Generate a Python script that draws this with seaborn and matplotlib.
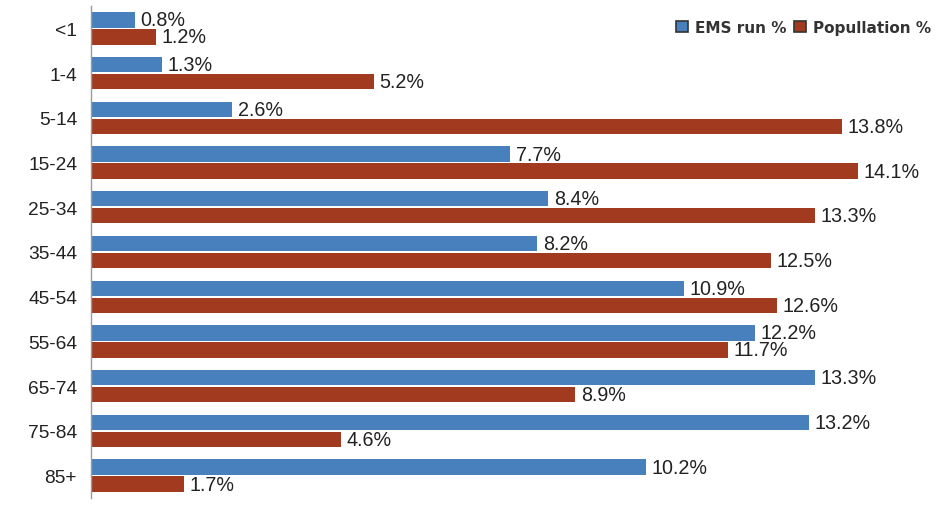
import matplotlib
matplotlib.use("Agg")
import matplotlib.pyplot as plt
import seaborn as sns
import pandas as pd
from matplotlib.patches import Patch

age_groups = ["<1", "1-4", "5-14", "15-24", "25-34", "35-44", "45-54",
              "55-64", "65-74", "75-84", "85+"]
ems_run_pct = [0.8, 1.3, 2.6, 7.7, 8.4, 8.2, 10.9, 12.2, 13.3, 13.2, 10.2]
population_pct = [1.2, 5.2, 13.8, 14.1, 13.3, 12.5, 12.6, 11.7, 8.9, 4.6, 1.7]
series_names = ["EMS run %", "Popullation %"]
series_colors = ["#4780bd", "#a23a20"]

df = pd.DataFrame({
    "age": age_groups * 2,
    "series": [series_names[0]] * len(age_groups) + [series_names[1]] * len(age_groups),
    "value": ems_run_pct + population_pct,
})

sns.set_theme(style="white")
plt.rcParams["font.family"] = ["Liberation Sans", "DejaVu Sans"]

fig = plt.figure(figsize=(9.45, 5.06), dpi=100)
ax = fig.add_axes([91 / 945, 1 - 499 / 506, (935 - 91) / 945, 492 / 506])

sns.barplot(data=df, y="age", x="value", hue="series", order=age_groups,
            hue_order=series_names, palette=series_colors, orient="h",
            width=0.76, gap=0.1, errorbar=None, saturation=1,
            edgecolor="none", linewidth=0, legend=False, ax=ax)

for container in ax.containers:
    ax.bar_label(container, fmt="%.1f%%", padding=4, fontsize=14.2,
                 color="#222222")

ax.set_xlim(0, 15.51)
ax.set_ylim(len(age_groups) - 0.5, -0.5)
ax.set_xlabel("")
ax.set_ylabel("")
ax.set_xticks([])
for side in ("top", "right", "bottom"):
    ax.spines[side].set_visible(False)
ax.spines["left"].set_color("#9a9a9a")
ax.spines["left"].set_linewidth(1)
ax.tick_params(axis="y", length=0, pad=10, labelsize=13.8, labelcolor="#222222")

handles = [Patch(facecolor=c, edgecolor="#333333", linewidth=1.2) for c in series_colors]
ax.legend(handles, series_names, loc="upper right", ncol=2, frameon=False,
          bbox_to_anchor=(1.012, 1.0), handlelength=0.8, handleheight=0.8,
          handletextpad=0.45, columnspacing=0.5,
          prop={"weight": "bold", "size": 11, "family": "DejaVu Sans"},
          labelcolor="#333333")

fig.savefig("out.png", dpi=100)
